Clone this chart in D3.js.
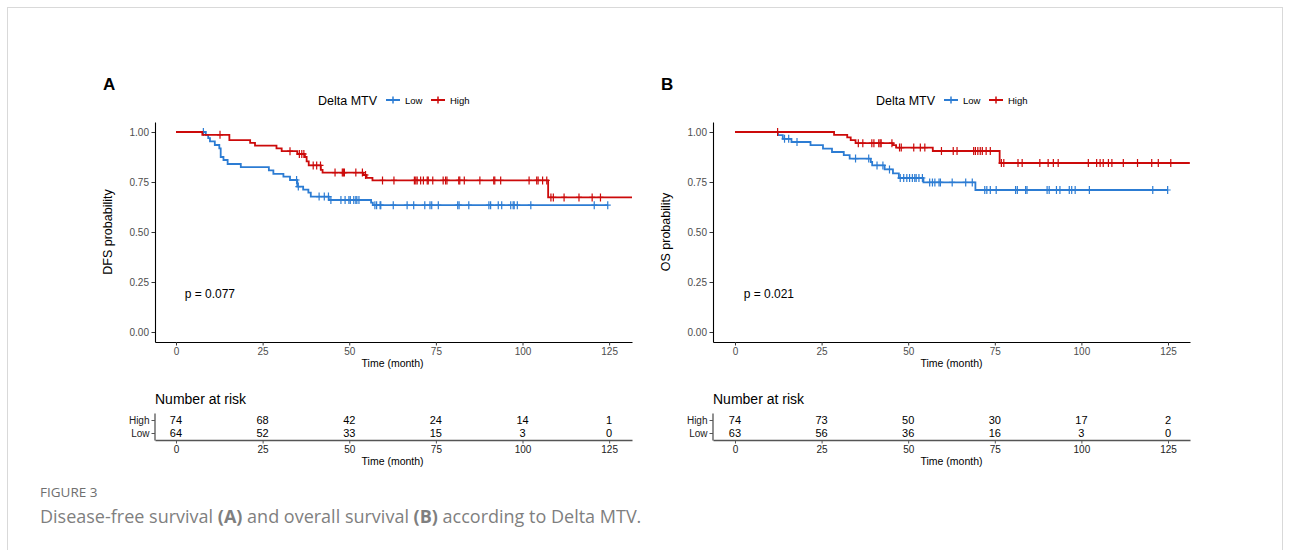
<!DOCTYPE html>
<html lang="en">
<head>
<meta charset="UTF-8">
<title>Figure 3 - Delta MTV survival</title>
<script src="https://cdn.jsdelivr.net/npm/d3@7"></script>
<style>
  body { margin: 0; background: #fff; }
  svg text { font-family: "Liberation Sans", Arial, sans-serif; }
</style>
</head>
<body>
<script>
// ---- data ----
// step points: [time (month), survival probability]
var dfsLowSteps = [[0,1],[8.6,0.984],[9.3,0.969],[9.8,0.953],[11.2,0.935],[12.5,0.918],[12.9,0.875],
  [13.7,0.860],[14.9,0.840],[18.7,0.824],[26.8,0.808],[28.1,0.791],[31.0,0.777],[32.9,0.760],
  [35.0,0.727],[36.7,0.712],[38.2,0.697],[38.9,0.677],[44.1,0.660],[56.3,0.647],[56.8,0.634]];
var dfsLowEnd = 124.6;
var dfsLowCensor = [7.9, 34.8, 35.3, 41.3, 42.8, 44.0, 44.7, 47.6, 48.8, 49.9, 50.3, 51.3, 51.9, 52.2, 52.8,
  57.4, 57.9, 58.9, 59.1, 62.7, 66.7, 68.6, 71.8, 73.3, 73.8, 75.7, 81.3, 81.7, 84.5,
  90.3, 90.8, 93.0, 94.0, 96.6, 97.3, 97.6, 98.5, 102.4, 120.7, 124.6];

var dfsHighSteps = [[0,1],[7.6,0.986],[15.4,0.959],[21.4,0.946],[22.8,0.932],[29.0,0.918],[30.5,0.904],
  [35.0,0.890],[37.2,0.875],[37.7,0.853],[38.3,0.833],[41.8,0.811],[42.3,0.797],[54.1,0.785],
  [55.0,0.771],[56.7,0.758],[107.4,0.673]];
var dfsHighEnd = 131.6;
var dfsHighCensor = [12.7, 32.9, 35.6, 36.3, 36.9, 39.6, 40.6, 41.7, 45.9, 48.0, 48.3, 48.6, 51.9, 53.8, 54.7,
  59.6, 62.9, 68.8, 69.2, 69.6, 70.6, 71.4, 72.5, 72.8, 74.1, 77.1, 77.8, 78.2, 81.6, 81.9, 83.2, 87.7,
  91.7, 92.0, 93.7, 101.9, 104.1, 104.5, 105.8, 107.0, 108.2, 108.9, 112.0, 116.3, 120.1, 122.5];

var osLowSteps = [[0,1],[12.4,0.984],[13.8,0.966],[16.3,0.950],[21.8,0.934],[25.4,0.917],[28.0,0.900],
  [31.4,0.884],[33.1,0.867],[39.2,0.850],[39.6,0.833],[43.2,0.813],[45.6,0.793],[47.3,0.770],
  [54.4,0.748],[69.4,0.710]];
var osLowEnd = 124.9;
var osLowCensor = [14.3, 15.5, 17.9, 34.8, 38.6, 41.0, 42.7, 44.6, 47.7, 48.7, 49.6, 50.4, 51.2, 51.9, 52.3,
  53.1, 54.1, 56.2, 57.0, 57.7, 58.9, 59.3, 62.7, 66.6, 68.5, 72.1, 72.7, 73.7, 75.4, 81.0, 81.5,
  83.9, 84.3, 90.1, 90.7, 92.8, 93.8, 96.5, 97.2, 98.2, 102.3, 120.6, 124.9];

var osHighSteps = [[0,1],[28.6,0.986],[32.4,0.973],[33.4,0.959],[34.8,0.944],[45.6,0.934],[46.5,0.922],
  [57.1,0.905],[76.4,0.845]];
var osHighEnd = 131.3;
var osHighCensor = [12.3, 35.6, 36.9, 39.5, 40.1, 41.5, 41.9, 42.2, 45.3, 47.5, 48.0, 51.6, 53.5, 54.8,
  59.6, 63.0, 64.1, 68.9, 69.4, 70.1, 70.8, 71.4, 72.5, 73.7, 76.9, 77.6, 81.7, 82.9, 88.0,
  90.4, 91.9, 93.3, 102.0, 104.4, 105.4, 106.3, 107.8, 108.8, 112.1, 116.2, 120.3, 122.2, 125.8];

// number at risk tables
var riskTimes = [0, 25, 50, 75, 100, 125];
var dfsRiskHigh = [74, 68, 42, 24, 14, 1];
var dfsRiskLow = [64, 52, 33, 15, 3, 0];
var osRiskHigh = [74, 73, 50, 30, 17, 2];
var osRiskLow = [63, 56, 36, 16, 3, 0];

var yTicks = [0, 0.25, 0.5, 0.75, 1];
var groups = ["Low", "High"];
var colores = {Low: "#2c7cd3", High: "#cc0a0a"};

// ---- drawing ----
var svg = d3.select("body").append("svg")
  .attr("width", 1290).attr("height", 550);

svg.append("rect").attr("x", 0).attr("y", 0).attr("width", 1290).attr("height", 550).attr("fill", "#fff");
// figure frame
svg.append("rect").attr("x", 7.5).attr("y", 7.5).attr("width", 1275).attr("height", 600)
  .attr("fill", "none").attr("stroke", "#d9d9d9").attr("stroke-width", 1);

function survAt(steps, t) {
  var s = steps[0][1];
  steps.forEach(function(p) { if (p[0] <= t) s = p[1]; });
  return s;
}

function panel(cfg) {
  var g = svg.append("g");
  var x = d3.scaleLinear().domain(cfg.xdom).range([cfg.left, cfg.left + 477]);
  var y = d3.scaleLinear().domain([-0.05, 1.05]).range([342, 122]);

  // panel letter
  g.append("text").attr("x", cfg.left - 52).attr("y", 90).attr("font-size", 17)
    .attr("font-weight", "bold").attr("fill", "#000").text(cfg.letter);

  // legend
  var lg = g.append("g").attr("transform", "translate(" + (cfg.left + 163) + ",100)");
  lg.append("text").attr("x", 0).attr("y", 4.5).attr("font-size", 12.5).attr("fill", "#000").text("Delta MTV");
  var lx = [68, 113];
  groups.forEach(function(k, i) {
    var c = colores[k];
    lg.append("path").attr("d", "M" + lx[i] + ",0 H" + (lx[i] + 14))
      .attr("stroke", c).attr("stroke-width", 2);
    lg.append("path").attr("d", "M" + (lx[i] + 7) + ",-3.5 V3.5")
      .attr("stroke", c).attr("stroke-width", 1.5);
    lg.append("text").attr("x", lx[i] + 19).attr("y", 3.5).attr("font-size", 9.5)
      .attr("fill", "#000").text(k);
  });

  // axes
  var ejeY = d3.axisLeft(y).tickValues(yTicks).tickFormat(d3.format(".2f"))
    .tickSize(3.5).tickSizeOuter(0).tickPadding(2.5);
  var gy = g.append("g").attr("transform", "translate(" + cfg.left + ",0)").call(ejeY);
  var ejeX = d3.axisBottom(x).tickValues(riskTimes).tickSize(3.5).tickSizeOuter(0).tickPadding(2);
  var gx = g.append("g").attr("transform", "translate(0,342)").call(ejeX);
  [gx, gy].forEach(function(a) {
    a.select(".domain").attr("stroke", "#000").attr("stroke-width", 1.1);
    a.selectAll(".tick line").attr("stroke", "#333");
    a.selectAll(".tick text").attr("font-size", 10).attr("fill", "#4d4d4d")
      .attr("font-family", "Liberation Sans, Arial, sans-serif");
  });
  g.append("text").attr("x", x(62.5)).attr("y", 367).attr("text-anchor", "middle")
    .attr("font-size", 10.5).attr("fill", "#000").text("Time (month)");
  g.append("text").attr("transform", "translate(" + (cfg.left - 43) + ",232) rotate(-90)")
    .attr("text-anchor", "middle").attr("font-size", 12.5).attr("fill", "#000").text(cfg.ytitle);

  // p-value
  g.append("text").attr("x", x(2.5)).attr("y", 298).attr("font-size", 12).attr("fill", "#000").text(cfg.pval);

  // curves
  var linea = d3.line().x(function(d) { return x(d[0]); }).y(function(d) { return y(d[1]); })
    .curve(d3.curveStepAfter);
  groups.forEach(function(k) {
    var s = cfg.series[k];
    var pts = s.steps.concat([[s.end, s.steps[s.steps.length - 1][1]]]);
    g.append("path").attr("d", linea(pts)).attr("fill", "none")
      .attr("stroke", colores[k]).attr("stroke-width", 1.8);
    g.append("g").selectAll("path").data(s.censor).enter().append("path")
      .attr("d", function(t) {
        var cx = x(t), cy = y(survAt(s.steps, t));
        return "M" + (cx - 3) + "," + cy + " H" + (cx + 3) + " M" + cx + "," + (cy - 4) + " V" + (cy + 4);
      })
      .attr("stroke", colores[k]).attr("stroke-width", 1.2).attr("fill", "none");
  });

  // number at risk table
  g.append("text").attr("x", cfg.left).attr("y", 404).attr("font-size", 14).attr("fill", "#000").text("Number at risk");
  var ry = d3.scalePoint().domain(["High", "Low"]).range([420, 433]);
  var ejeRY = d3.axisLeft(ry).tickSize(3.5).tickPadding(2);
  var gry = g.append("g").attr("transform", "translate(" + cfg.left + ",0)").call(ejeRY);
  var grx = g.append("g").attr("transform", "translate(0,440)").call(ejeX);
  [gry, grx].forEach(function(a) {
    a.select(".domain").attr("stroke", "#555").attr("stroke-width", 1.3);
    a.selectAll(".tick line").attr("stroke", "#555");
    a.selectAll(".tick text").attr("font-size", 10).attr("fill", "#222")
      .attr("font-family", "Liberation Sans, Arial, sans-serif");
  });
  gry.select(".domain").attr("d", "M0,413.5V440.5");
  var filas = [["High", cfg.riskHigh], ["Low", cfg.riskLow]];
  filas.forEach(function(f) {
    g.append("g").selectAll("text").data(f[1]).enter().append("text")
      .attr("x", function(d, i) { return x(riskTimes[i]); })
      .attr("y", ry(f[0]) + 4)
      .attr("text-anchor", "middle").attr("font-size", 11).attr("fill", "#000")
      .text(function(d) { return d; });
  });
  g.append("text").attr("x", x(62.5)).attr("y", 465).attr("text-anchor", "middle")
    .attr("font-size", 10.5).attr("fill", "#000").text("Time (month)");
}

panel({
  letter: "A", left: 155, xdom: [-6.06, 131.6], ytitle: "DFS probability", pval: "p = 0.077",
  series: {
    Low: {steps: dfsLowSteps, end: dfsLowEnd, censor: dfsLowCensor},
    High: {steps: dfsHighSteps, end: dfsHighEnd, censor: dfsHighCensor}
  },
  riskHigh: dfsRiskHigh, riskLow: dfsRiskLow
});
panel({
  letter: "B", left: 713, xdom: [-6.35, 131.35], ytitle: "OS probability", pval: "p = 0.021",
  series: {
    Low: {steps: osLowSteps, end: osLowEnd, censor: osLowCensor},
    High: {steps: osHighSteps, end: osHighEnd, censor: osHighCensor}
  },
  riskHigh: osRiskHigh, riskLow: osRiskLow
});

// caption
svg.append("text").attr("x", 40).attr("y", 497).attr("font-size", 13.5)
  .style("font-family", "'Open Sans', sans-serif").attr("fill", "#6f6f6f").text("FIGURE 3");
var cap = svg.append("text").attr("x", 40).attr("y", 523).attr("font-size", 18)
  .style("font-family", "'Open Sans', sans-serif").attr("fill", "#7f7f7f");
cap.append("tspan").text("Disease-free survival ");
cap.append("tspan").attr("font-weight", "bold").text("(A)");
cap.append("tspan").text(" and overall survival ");
cap.append("tspan").attr("font-weight", "bold").text("(B)");
cap.append("tspan").text(" according to Delta MTV.");
</script>
</body>
</html>
